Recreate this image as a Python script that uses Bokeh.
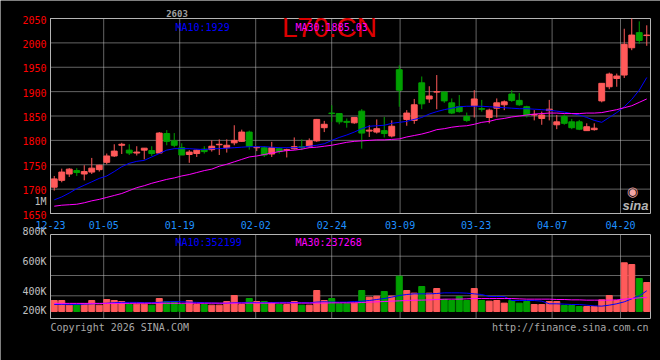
from bokeh.plotting import figure
from bokeh.models import Range1d, Label, ColumnDataSource
from bokeh.core.properties import value
from bokeh.embed import file_html
from bokeh.resources import INLINE

# ---------------- data ----------------
date_labels = ["12-23", "01-05", "01-19", "02-02", "02-24", "03-09", "03-23", "04-07", "04-20"]
date_index = [0, 7, 17, 27, 37, 46, 56, 66, 75]

open_ = [1704, 1718, 1731, 1738, 1731, 1735, 1740, 1755, 1768, 1790,
         1780, 1774, 1780, 1779, 1774, 1814, 1799, 1785, 1771, 1773,
         1782, 1781, 1791, 1785, 1795, 1798, 1817, 1785, 1785, 1772,
         1783, 1780, 1783, 1787, 1787, 1799, 1826, 1856, 1855, 1839,
         1836, 1860, 1819, 1817, 1820, 1809, 1945, 1843, 1841, 1918,
         1885, 1899, 1899, 1877, 1869, 1849, 1871, 1865, 1847, 1866,
         1873, 1895, 1882, 1869, 1852, 1845, 1861, 1832, 1849, 1838,
         1838, 1820, 1822, 1881, 1910, 1927, 1934, 1990, 2021, 2015]
high = [1727, 1742, 1743, 1743, 1749, 1764, 1750, 1773, 1792, 1795,
        1792, 1788, 1784, 1788, 1817, 1821, 1815, 1794, 1780, 1781,
        1788, 1800, 1802, 1802, 1831, 1822, 1820, 1787, 1788, 1797,
        1786, 1783, 1806, 1802, 1804, 1844, 1840, 1872, 1856, 1845,
        1848, 1864, 1831, 1843, 1848, 1841, 1954, 1862, 1885, 1931,
        1911, 1934, 1900, 1886, 1893, 1857, 1903, 1883, 1865, 1886,
        1882, 1903, 1897, 1871, 1862, 1859, 1883, 1852, 1853, 1844,
        1842, 1835, 1835, 1917, 1939, 1937, 2029, 2050, 2044, 2036]
low = [1697, 1714, 1725, 1727, 1718, 1731, 1736, 1751, 1766, 1772,
       1770, 1769, 1761, 1768, 1773, 1790, 1786, 1770, 1754, 1766,
       1773, 1777, 1770, 1775, 1790, 1797, 1781, 1778, 1766, 1766,
       1773, 1765, 1781, 1780, 1785, 1797, 1817, 1838, 1833, 1826,
       1834, 1783, 1807, 1814, 1806, 1806, 1869, 1830, 1834, 1864,
       1877, 1864, 1877, 1854, 1857, 1838, 1847, 1859, 1835, 1847,
       1862, 1879, 1871, 1847, 1841, 1832, 1841, 1823, 1832, 1823,
       1821, 1820, 1820, 1878, 1905, 1910, 1928, 1985, 1998, 1994]
close = [1721, 1735, 1741, 1734, 1736, 1743, 1749, 1768, 1778, 1792,
         1774, 1776, 1784, 1773, 1815, 1798, 1790, 1770, 1776, 1780,
         1777, 1788, 1792, 1790, 1800, 1817, 1788, 1786, 1770, 1785,
         1777, 1781, 1787, 1785, 1799, 1843, 1833, 1855, 1838, 1837,
         1847, 1815, 1821, 1824, 1814, 1829, 1903, 1856, 1873, 1875,
         1891, 1900, 1881, 1856, 1859, 1841, 1885, 1864, 1862, 1877,
         1879, 1882, 1873, 1852, 1853, 1852, 1864, 1838, 1835, 1826,
         1823, 1828, 1825, 1917, 1936, 1932, 1997, 2016, 2005, 2016]
ma10 = [1678, 1684, 1692, 1701, 1708, 1715, 1722, 1727, 1736, 1746,
        1753, 1757, 1759, 1766, 1773, 1780, 1783, 1783, 1783, 1782,
        1781, 1783, 1783, 1784, 1785, 1786, 1787, 1787, 1787, 1786,
        1785, 1785, 1785, 1786, 1788, 1790, 1793, 1800, 1806, 1811,
        1817, 1824, 1829, 1830, 1831, 1835, 1837, 1839, 1843, 1847,
        1854, 1859, 1863, 1866, 1869, 1870, 1870, 1870, 1869, 1868,
        1867, 1866, 1865, 1865, 1864, 1863, 1862, 1860, 1858, 1855,
        1852, 1847, 1841, 1837, 1847, 1857, 1869, 1884, 1903, 1929]
ma30 = [1665, 1667, 1668, 1669, 1672, 1676, 1679, 1683, 1687, 1691,
        1697, 1703, 1707, 1712, 1716, 1720, 1723, 1727, 1730, 1734,
        1738, 1741, 1747, 1751, 1756, 1761, 1766, 1768, 1771, 1774,
        1777, 1779, 1780, 1782, 1785, 1786, 1788, 1790, 1793, 1796,
        1798, 1799, 1800, 1801, 1801, 1802, 1803, 1807, 1810, 1813,
        1817, 1822, 1824, 1827, 1829, 1830, 1833, 1837, 1839, 1843,
        1845, 1848, 1850, 1852, 1854, 1855, 1856, 1856, 1855, 1855,
        1855, 1856, 1856, 1857, 1860, 1863, 1867, 1871, 1878, 1885]
volume = [187000, 187000, 108000, 119000, 131000, 187000, 108000, 204000, 187000, 170000,
          119000, 125000, 125000, 108000, 221000, 170000, 170000, 119000, 187000, 119000,
          119000, 108000, 108000, 170000, 272000, 119000, 221000, 170000, 170000, 153000,
          119000, 119000, 170000, 108000, 108000, 357000, 187000, 221000, 131000, 131000,
          142000, 357000, 244000, 261000, 340000, 261000, 600000, 357000, 312000, 425000,
          312000, 391000, 204000, 187000, 255000, 187000, 391000, 187000, 176000, 187000,
          142000, 187000, 142000, 170000, 119000, 119000, 170000, 170000, 102000, 102000,
          85000, 85000, 85000, 198000, 272000, 187000, 828000, 799000, 561000, 493000]
vol_ma10 = [120000, 122000, 122000, 120000, 125000, 130000, 135000, 140000, 150000, 155000,
            155000, 155000, 150000, 150000, 155000, 165000, 170000, 165000, 160000, 155000,
            150000, 145000, 140000, 140000, 150000, 150000, 155000, 150000, 150000, 152000,
            155000, 155000, 153000, 150000, 148000, 160000, 165000, 160000, 159000, 160000,
            170000, 175000, 187000, 204000, 221000, 244000, 272000, 289000, 300000, 300000,
            300000, 306000, 317000, 317000, 317000, 312000, 300000, 289000, 255000, 255000,
            255000, 187000, 187000, 187000, 187000, 176000, 131000, 131000, 125000, 119000,
            119000, 108000, 96000, 91000, 108000, 131000, 164000, 215000, 266000, 352199]
vol_ma30 = [138000, 138000, 138000, 138000, 138000, 138000, 138000, 138000, 138000, 138000,
            138000, 140000, 140000, 140000, 140000, 140000, 140000, 140000, 140000, 140000,
            140000, 142000, 142000, 142000, 142000, 142000, 142000, 142000, 142000, 142000,
            142000, 143000, 143000, 143000, 143000, 143000, 143000, 147000, 147000, 147000,
            147000, 153000, 159000, 164000, 170000, 176000, 181000, 187000, 193000, 193000,
            198000, 204000, 210000, 210000, 210000, 215000, 221000, 221000, 221000, 221000,
            221000, 221000, 215000, 210000, 210000, 210000, 210000, 204000, 204000, 198000,
            198000, 193000, 193000, 193000, 193000, 198000, 210000, 221000, 232000, 237268]

price_ticks = [1650, 1700, 1750, 1800, 1850, 1900, 1950, 2000, 2050]
vol_tick_labels = ["800K", "600K", "400K", "200K"]
title_text = "L70.CN"
code_text = "2603"
ma_price_text = ["MA10:1929", "MA30:1885.03"]
ma_vol_text = ["MA10:352199", "MA30:237268"]

# ---------------- styling / layout ----------------
RED = "#FF5A5A"
GREEN = "#00A000"
BLUE = "#0000FF"
MAG = "#FF00FF"
GRID = "#C8C8C8"
FRAME = "#B4B4B4"
GREY = "#B0B0B0"
MONO = "DejaVu Sans Mono"

W, H = 660, 360
# pixel geometry of the two panels in the reference
PX_L, SLOT = 50, 7.5                # left edge of panels, px per candle
P_TOP, P_BOT = 18, 213              # price panel (2050 .. 1650)
V_TOP, V_BOT, V_ZERO = 234, 318, 311  # volume panel, zero line of bars
VPX = 17000                          # volume units per pixel

n = len(close)
xs = [i + 0.5 for i in range(n)]
colors = [RED if c >= o else GREEN for o, c in zip(open_, close)]
src = ColumnDataSource(dict(
    x=xs, o=open_, h=high, l=low, c=close,
    top=[max(o, c) for o, c in zip(open_, close)],
    bot=[min(o, c) for o, c in zip(open_, close)],
    color=colors, ma10=ma10, ma30=ma30,
    vol=volume, vma10=vol_ma10, vma30=vol_ma30,
))

# date grid lines: Sina spaces them at 7.6 px per trading day
tick_x = [i * 7.6 / 7.5 for i in date_index]

upp = (price_ticks[-1] - price_ticks[0]) / (P_BOT - P_TOP)   # price units per pixel
x_range = Range1d(-PX_L / SLOT, (W - PX_L) / SLOT)
y_range = Range1d(price_ticks[-1] - (H - P_TOP) * upp, price_ticks[-1] + P_TOP * upp)

p = figure(width=W, height=H, x_range=x_range, y_range=y_range,
           output_backend="svg", toolbar_location=None,
           min_border=0, min_border_left=0, min_border_right=0,
           min_border_top=0, min_border_bottom=0,
           background_fill_color="black", border_fill_color="black",
           outline_line_color=None)
p.extra_y_ranges = {"vol": Range1d(-(H - V_ZERO) * VPX, V_ZERO * VPX)}
p.axis.visible = False
p.grid.visible = False

x_end = n
vol_top = (V_ZERO - V_TOP) * VPX
vol_bot = (V_ZERO - V_BOT) * VPX

# ---- grids (dotted) ----
p.segment(x0=tick_x, y0=[price_ticks[0]] * len(tick_x), x1=tick_x, y1=[price_ticks[-1]] * len(tick_x),
          line_color=GRID, line_dash="1 1", line_width=1)
p.segment(x0=[0] * len(price_ticks), y0=price_ticks, x1=[x_end] * len(price_ticks), y1=price_ticks,
          line_color=GRID, line_dash="1 1", line_width=1)
p.segment(x0=tick_x, y0=[vol_bot] * len(tick_x), x1=tick_x, y1=[vol_top] * len(tick_x),
          line_color=GRID, line_dash="1 1", line_width=1, y_range_name="vol")
vgrid = [(V_ZERO - py) * VPX for py in (255.7, 275, 295.3)]
p.segment(x0=[0] * 3, y0=vgrid, x1=[x_end] * 3, y1=vgrid,
          line_color=GRID, line_dash="1 1", line_width=1, y_range_name="vol")

# ---- panel frames ----
p.quad(left=0, right=x_end, bottom=price_ticks[0], top=price_ticks[-1],
       fill_color=None, line_color=FRAME, line_width=1)
p.quad(left=0, right=x_end, bottom=vol_bot, top=vol_top,
       fill_color=None, line_color=FRAME, line_width=1, y_range_name="vol")

# ---- candles ----
p.segment(x0="x", y0="h", x1="x", y1="l", color="color", line_width=1, source=src)
p.vbar(x="x", top="top", bottom="bot", width=0.78, fill_color="color",
       line_color="color", line_width=1, source=src)
p.line("x", "ma10", color=BLUE, line_width=1, source=src)
p.line("x", "ma30", color=MAG, line_width=1, source=src)

# ---- volume ----
p.vbar(x="x", top="vol", bottom=0, width=0.8, fill_color="color", line_color="color",
       line_width=1, source=src, y_range_name="vol")
p.line("x", "vma10", color=BLUE, line_width=1, source=src, y_range_name="vol")
p.line("x", "vma30", color=MAG, line_width=1, source=src, y_range_name="vol")

# ---- tick labels ----
p.text(x=[0] * len(price_ticks), y=price_ticks, text=[str(t) for t in price_ticks],
       x_offset=-4, y_offset=1, text_align="right", text_baseline="alphabetic",
       text_font=value(MONO), text_font_size=value("10px"), text_color="#FF0000")
p.text(x=tick_x, y=[price_ticks[0]] * len(tick_x), text=date_labels,
       y_offset=11.5, text_align="center", text_baseline="alphabetic",
       text_font=value(MONO), text_font_size=value("10px"), text_color="#1E90FF")


def lab(px, py, text, color, size="10px", align="left", baseline="alphabetic",
        font=MONO, style="normal"):
    p.add_layout(Label(x=px, y=H - py, x_units="screen", y_units="screen", text=text,
                       text_align=align, text_baseline=baseline, text_font=font,
                       text_font_size=size, text_color=color, text_font_style=style))


lab(46, 201, "1M", "#C0C0C0", align="right", baseline="middle")
for t, py in zip(vol_tick_labels, (230.7, 260.5, 290.5, 310)):
    lab(46, py, t, "#C0C0C0", align="right", baseline="middle")

lab(176.5, 13, code_text, "#A0A0A0", size="9px", align="center", style="bold")
lab(329, 27, title_text, "#DD0000", size="28px", align="center", font="Liberation Sans")
lab(175, 26.7, ma_price_text[0], BLUE)
lab(295, 26.7, ma_price_text[1], MAG)
lab(175, 241.5, ma_vol_text[0], BLUE)
lab(295, 241.5, ma_vol_text[1], MAG)
lab(50, 327, "Copyright 2026 SINA.COM", "#A8A8A8")
lab(648, 327, "http://finance.sina.com.cn", "#A8A8A8", align="right")
# sina logo
lab(632, 191, "\u25C9", "#F2A6A6", size="13px", align="center", baseline="middle",
    font="DejaVu Sans")
lab(635, 205, "sina", "#B4B4B4", size="13px", align="center",
    font="Liberation Sans", style="bold italic")

open("out.html", "w").write(file_html(p, INLINE))
